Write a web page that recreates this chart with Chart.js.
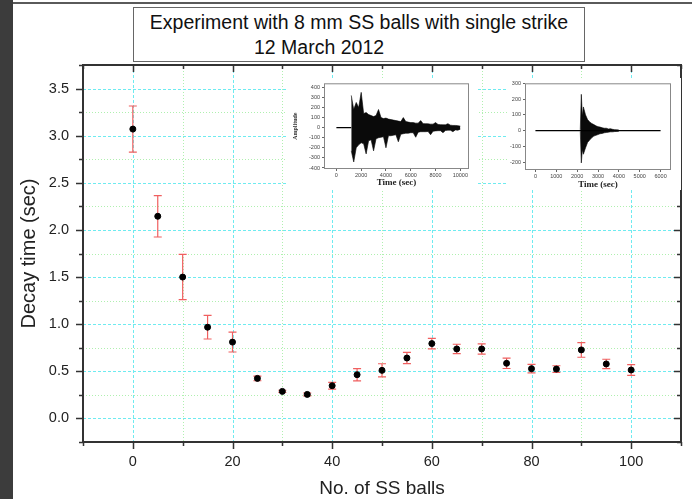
<!DOCTYPE html>
<html><head><meta charset="utf-8">
<script src="https://cdn.jsdelivr.net/npm/chart.js@4.4.1/dist/chart.umd.min.js"></script>
<style>
html,body{margin:0;padding:0;background:#fff;}
body{width:692px;height:499px;position:relative;overflow:hidden;font-family:"Liberation Sans",Arial,sans-serif;}
#strip{position:absolute;left:0;top:0;width:13px;height:499px;background:#3c3c3c;}
#topline{position:absolute;left:13px;top:2px;width:679px;height:2px;background:#5a5a5a;}
#main{position:absolute;left:0;top:0;}
#titlebox{position:absolute;left:133px;top:7px;width:452px;height:55px;box-sizing:border-box;border:1.5px solid #666;background:#fff;}
.tl{position:absolute;font-size:19.5px;color:#111;white-space:nowrap;line-height:24px;}
.inset{position:absolute;background:#fff;}
</style></head>
<body>
<div id="strip"></div>
<div id="topline"></div>
<canvas id="main" width="692" height="499"></canvas>
<div id="titlebox"></div>
<div class="tl" style="left:133px;width:452px;text-align:center;top:10px;">Experiment with 8 mm SS balls with single strike</div>
<div class="tl" style="left:254px;top:35px;">12 March 2012</div>
<div class="inset" style="left:286px;top:78px;width:192px;height:112px;"><canvas id="in1" width="190" height="112"></canvas></div>
<div class="inset" style="left:508px;top:78px;width:173px;height:112px;"><canvas id="in2" width="173" height="112"></canvas></div>
<script>
// ---------- main data ----------
const balls = [0,5,10,15,20,25,30,35,40,45,50,55,60,65,70,75,80,85,90,95,100];
const decayTime = [3.07,2.145,1.50,0.968,0.81,0.425,0.287,0.255,0.347,0.464,0.51,0.641,0.794,0.737,0.737,0.585,0.528,0.524,0.727,0.578,0.514];
const decayErr = [0.245,0.22,0.24,0.125,0.105,0.025,0.012,0.015,0.035,0.065,0.07,0.06,0.055,0.05,0.055,0.055,0.045,0.035,0.078,0.05,0.057];
const xTickLabels = ['0','20','40','60','80','100'];
const yTickLabels = ['0.0','0.5','1.0','1.5','2.0','2.5','3.0','3.5'];

// ---------- inset 1 (long decay signal) ----------
const sig1Time = [1200,1400,1600,1800,2000,2200,2400,2600,2800,3000,3200,3400,3600,3800,4000,4200,4400,4600,4800,5000,5200,5400,5600,5800,6000,6200,6400,6600,6800,7000,7200,7400,7600,7800,8000,8200,8400,8600,8800,9000,9200,9400,9600,9800,10000];
const sig1Max = [320,180,250,200,350,140,150,130,120,110,120,180,100,90,95,85,80,75,70,65,60,100,60,55,50,50,45,45,70,40,40,38,35,35,50,32,30,28,28,40,25,22,22,20,15];
const sig1Min = [-230,-340,-200,-170,-150,-160,-260,-130,-120,-230,-110,-100,-95,-90,-200,-80,-80,-75,-70,-140,-65,-60,-55,-55,-50,-50,-95,-45,-40,-40,-40,-38,-70,-35,-32,-30,-30,-50,-28,-25,-25,-40,-22,-25,-15];
const sig1QuietTime = [0,1200];
const sig1QuietAmp = [0,0];
const sig1XTicks = [0,2000,4000,6000,8000,10000];
const sig1YTicks = [-400,-300,-200,-100,0,100,200,300,400];

// ---------- inset 2 (short decay signal) ----------
const sig2Time = [2150,2200,2250,2300,2400,2500,2600,2700,2800,2900,3000,3100,3200,3300,3400,3500,3600,3700,3800,3900,4000];
const sig2Max = [5,230,90,150,100,70,55,45,38,30,25,22,18,15,15,10,12,8,6,5,4];
const sig2Min = [-5,-205,-120,-150,-110,-75,-60,-45,-35,-30,-25,-20,-18,-14,-12,-10,-8,-8,-6,-5,-4];
const sig2BaseTime = [0,6000];
const sig2BaseAmp = [0,0];
const sig2XTicks = [0,1000,2000,3000,4000,5000,6000];
const sig2YTicks = [-200,-100,0,100,200,300];

const near = (v, step) => Math.abs(v/step - Math.round(v/step)) < 1e-6;

const mainDecor = {
  id: 'mainDecor',
  beforeDatasetsDraw(chart) {
    const {ctx, chartArea: a, scales: {x, y}} = chart;
    ctx.save();
    ctx.lineWidth = 1;
    x.ticks.forEach(t => {
      const v = t.value;
      if (v <= x.min || v >= x.max) return;
      const major = near(v, 20);
      ctx.strokeStyle = major ? 'rgb(110,235,240)' : 'rgb(175,240,175)';
      ctx.setLineDash(major ? [3, 2] : [1, 2]);
      const px = Math.round(x.getPixelForValue(v)) + 0.5;
      ctx.beginPath(); ctx.moveTo(px, a.top); ctx.lineTo(px, a.bottom); ctx.stroke();
    });
    y.ticks.forEach(t => {
      const v = t.value;
      if (v <= y.min || v >= y.max) return;
      const major = near(v, 0.5);
      ctx.strokeStyle = major ? 'rgb(110,235,240)' : 'rgb(175,240,175)';
      ctx.setLineDash(major ? [3, 2] : [1, 2]);
      const py = Math.round(y.getPixelForValue(v)) + 0.5;
      ctx.beginPath(); ctx.moveTo(a.left, py); ctx.lineTo(a.right, py); ctx.stroke();
    });
    // error bars
    ctx.setLineDash([]);
    ctx.strokeStyle = 'rgb(240,95,95)';
    ctx.lineWidth = 1.2;
    balls.forEach((b, i) => {
      const px = x.getPixelForValue(b);
      const yt = y.getPixelForValue(decayTime[i] + decayErr[i]);
      const yb = y.getPixelForValue(decayTime[i] - decayErr[i]);
      ctx.beginPath();
      ctx.moveTo(px, yt); ctx.lineTo(px, yb);
      ctx.moveTo(px - 4, yt); ctx.lineTo(px + 4, yt);
      ctx.moveTo(px - 4, yb); ctx.lineTo(px + 4, yb);
      ctx.stroke();
    });
    ctx.restore();
  },
  afterDraw(chart) {
    const {ctx, chartArea: a, scales: {x, y}} = chart;
    ctx.save();
    ctx.strokeStyle = '#333';
    ctx.lineWidth = 2;
    ctx.strokeRect(a.left, a.top, a.right - a.left, a.bottom - a.top);
    ctx.lineWidth = 1.5;
    x.ticks.forEach(t => {
      const len = near(t.value, 20) ? 7 : 4;
      const px = Math.round(x.getPixelForValue(t.value)) + 0.5;
      ctx.beginPath();
      ctx.moveTo(px, a.bottom); ctx.lineTo(px, a.bottom + len);
      ctx.moveTo(px, a.top); ctx.lineTo(px, a.top + len);
      ctx.stroke();
    });
    y.ticks.forEach(t => {
      const len = near(t.value, 0.5) ? 7 : 4;
      const py = Math.round(y.getPixelForValue(t.value)) + 0.5;
      ctx.beginPath();
      ctx.moveTo(a.left - len, py); ctx.lineTo(a.left, py);
      ctx.moveTo(a.right - len, py); ctx.lineTo(a.right, py);
      ctx.stroke();
    });
    ctx.restore();
  }
};

const FONT = '"Liberation Sans", Arial, sans-serif';

new Chart(document.getElementById('main'), {
  type: 'scatter',
  data: {
    datasets: [{
      data: balls.map((b, i) => ({x: b, y: decayTime[i]})),
      backgroundColor: '#000', borderColor: '#000', pointRadius: 3, pointHoverRadius: 3
    }]
  },
  options: {
    responsive: false, animation: false, devicePixelRatio: 1,
    layout: {padding: {left: 0, top: 65, right: 9, bottom: 0}},
    plugins: {legend: {display: false}, tooltip: {enabled: false}},
    scales: {
      x: {
        type: 'linear', min: -10, max: 110,
        afterFit(s) { s.height = 57; },
        grid: {display: false, drawTicks: false},
        border: {display: false},
        ticks: {
          stepSize: 10, autoSkip: false, maxRotation: 0, padding: 11,
          color: '#222', font: {family: FONT, size: 14.5},
          callback: v => (near(v, 20) && v >= 0 && v <= 100) ? xTickLabels[Math.round(v / 20)] : ''
        },
        title: {display: true, text: 'No. of SS balls', color: '#222',
          font: {family: FONT, size: 19, lineHeight: 1}, padding: {top: 0, bottom: 0.5}}
      },
      y: {
        min: -0.25, max: 3.75,
        afterFit(s) { s.width = 83; },
        grid: {display: false, drawTicks: false},
        border: {display: false},
        ticks: {
          stepSize: 0.25, autoSkip: false, padding: 14,
          color: '#222', font: {family: FONT, size: 14.5},
          callback: v => (near(v, 0.5) && v >= 0) ? yTickLabels[Math.round(v / 0.5)] : ''
        },
        title: {display: true, text: 'Decay time (sec)', color: '#222',
          font: {family: FONT, size: 20, lineHeight: 1}, padding: {top: 19.5, bottom: 0}}
      }
    }
  },
  plugins: [mainDecor]
});

// ---------- insets ----------
const boxPlugin = {
  id: 'box',
  afterDraw(chart) {
    const {ctx, chartArea: a} = chart;
    ctx.save();
    ctx.strokeStyle = '#888'; ctx.lineWidth = 1;
    ctx.strokeRect(a.left + 0.5, a.top + 0.5, a.right - a.left - 1, a.bottom - a.top - 1);
    ctx.restore();
  }
};
const SERIF = '"Liberation Serif", "Times New Roman", serif';
function insetScales(o) {
  return {
    x: {
      type: 'linear', min: o.xmin, max: o.xmax, offset: false,
      afterFit(s) { s.height = o.xh; },
      afterBuildTicks(s) { s.ticks = o.xticks.map(v => ({value: v})); },
      grid: {drawOnChartArea: false, drawTicks: true, tickLength: 2, color: '#666', offset: false},
      border: {display: false},
      ticks: {autoSkip: false, maxRotation: 0, minRotation: 0, padding: o.xpad, color: '#444',
        font: {family: FONT, size: 5.5}, callback: v => String(v)},
      title: {display: true, text: 'Time (sec)', color: '#222',
        font: {family: SERIF, size: 9, weight: 'bold', lineHeight: 1}, padding: {top: 0, bottom: o.xtpb}}
    },
    y: {
      type: 'linear', min: o.ymin, max: o.ymax,
      afterFit(s) { s.width = o.yw; },
      afterBuildTicks(s) { s.ticks = o.yticks.map(v => ({value: v})); },
      grid: {drawOnChartArea: false, drawTicks: true, tickLength: 2, color: '#666'},
      border: {display: false},
      ticks: {autoSkip: false, padding: o.ypad, color: '#444',
        font: {family: FONT, size: 5.5}, callback: v => String(v)},
      title: {display: !!o.ytitle, text: o.ytitle || '', color: '#333',
        font: {family: SERIF, size: 6, weight: 'bold', lineHeight: 1}, padding: {top: 6, bottom: 0}}
    }
  };
}
function insetDatasets(baseT, baseA, t, mx, mn) {
  return [
    {data: baseT.map((v, i) => ({x: v, y: baseA[i]})), borderColor: '#000', borderWidth: 1.1,
      pointRadius: 0, fill: false},
    {data: t.map((v, i) => ({x: v, y: mx[i]})), borderColor: '#000', borderWidth: 0.6,
      pointRadius: 0, fill: '+1', backgroundColor: '#0a0a0a'},
    {data: t.map((v, i) => ({x: v, y: mn[i]})), borderColor: '#000', borderWidth: 0.6,
      pointRadius: 0, fill: false}
  ];
}
const insetOpts = (pad, scales) => ({
  responsive: false, animation: false, devicePixelRatio: 1,
  layout: {padding: pad},
  plugins: {legend: {display: false}, tooltip: {enabled: false}},
  scales
});

new Chart(document.getElementById('in1'), {
  type: 'line',
  data: {datasets: insetDatasets(sig1QuietTime, sig1QuietAmp, sig1Time, sig1Max, sig1Min)},
  options: insetOpts({left: 0, top: 5, right: 7, bottom: 0},
    insetScales({xmin: -1000, xmax: 10700, xticks: sig1XTicks, ymin: -410, ymax: 440, yticks: sig1YTicks,
      xh: 21, yw: 38, xpad: 1, ypad: 2, xtpb: 2.5, ytitle: 'Amplitude'})),
  plugins: [boxPlugin]
});

new Chart(document.getElementById('in2'), {
  type: 'line',
  data: {datasets: insetDatasets(sig2BaseTime, sig2BaseAmp, sig2Time, sig2Max, sig2Min)},
  options: insetOpts({left: 0, top: 4, right: 10, bottom: 0},
    insetScales({xmin: -500, xmax: 6500, xticks: sig2XTicks, ymin: -250, ymax: 300, yticks: sig2YTicks,
      xh: 20, yw: 17, xpad: 1.5, ypad: 2, xtpb: 0.5})),
  plugins: [boxPlugin]
});
</script>
</body></html>
